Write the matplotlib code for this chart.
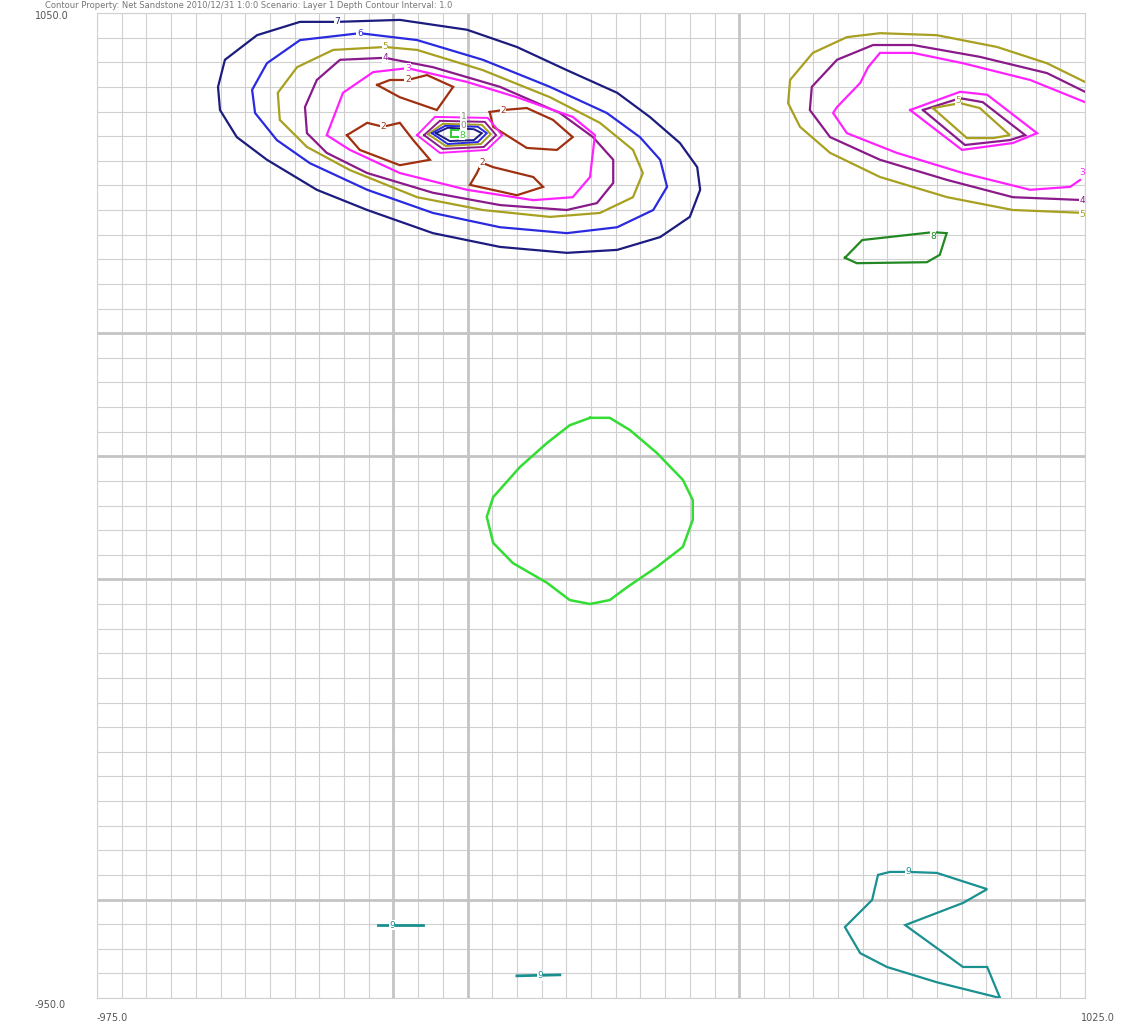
import numpy as np
import matplotlib.pyplot as plt

# contour polylines, data units (x, y)
navy7 = [(-489, 1032), (-564, 1032), (-651, 1005), (-716, 955), (-730, 900), (-726, 853),
         (-692, 798), (-631, 752), (-530, 691), (-428, 650), (-295, 603), (-159, 575),
         (-24, 563), (78, 569), (165, 595), (225, 636), (246, 691), (240, 737), (205, 786),
         (144, 839), (78, 888), (-24, 934), (-125, 981), (-226, 1016), (-362, 1036), (-489, 1032)]
blue6 = [(-443, 1009), (-564, 995), (-631, 948), (-661, 894), (-655, 847), (-611, 792),
         (-544, 745), (-428, 691), (-295, 644), (-159, 615), (-24, 603), (78, 615), (151, 650),
         (179, 697), (165, 752), (124, 798), (57, 847), (-58, 900), (-194, 955), (-327, 995),
         (-443, 1009)]
olive5 = [(-392, 981), (-497, 975), (-570, 940), (-609, 888), (-605, 833), (-550, 778),
          (-463, 731), (-327, 676), (-194, 650), (-58, 636), (43, 644), (110, 676), (130, 725),
          (110, 772), (43, 827), (-58, 879), (-194, 934), (-327, 975), (-392, 981)]
purple4 = [(-392, 959), (-483, 955), (-530, 914), (-554, 859), (-550, 806), (-510, 766),
           (-428, 725), (-295, 685), (-159, 660), (-24, 650), (37, 664), (70, 705), (70, 752),
           (29, 798), (-38, 847), (-159, 900), (-295, 940), (-392, 959)]
magenta3 = [(-346, 938), (-416, 930), (-477, 888), (-510, 802), (-463, 772), (-362, 725),
            (-226, 691), (-92, 670), (-12, 676), (23, 717), (33, 802), (-12, 839), (-125, 879),
            (-226, 910), (-346, 938)]
brown2 = [
    [(-408, 904), (-382, 914), (-346, 914), (-307, 924), (-254, 900), (-287, 853), (-362, 879), (-408, 904)],
    [(-469, 802), (-428, 827), (-396, 819), (-362, 827), (-335, 792), (-301, 752), (-362, 741), (-443, 772), (-469, 802)],
    [(-180, 849), (-153, 853), (-105, 857), (-52, 833), (-12, 798), (-44, 772), (-105, 776), (-173, 819), (-180, 849)],
    [(-196, 746), (-173, 737), (-92, 717), (-72, 697), (-125, 680), (-220, 701), (-206, 725), (-196, 746)],
]
# peak in the middle of the left cluster, levels 3..8
pit = [
    ('#ff22ff', [(-327, 802), (-291, 839), (-184, 837), (-155, 802), (-186, 772), (-281, 766), (-327, 802)]),
    ('#8a1a8a', [(-313, 802), (-281, 831), (-190, 829), (-167, 802), (-192, 778), (-275, 774), (-313, 802)]),
    ('#a8a020', [(-305, 804), (-275, 825), (-196, 823), (-178, 804), (-198, 784), (-269, 780), (-305, 804)]),
    ('#2a2ae0', [(-297, 806), (-270, 821), (-204, 819), (-186, 806), (-204, 788), (-265, 784), (-297, 806)]),
    ('#1c1c80', [(-289, 806), (-265, 817), (-212, 814), (-196, 806), (-212, 792), (-261, 790), (-289, 806)]),
    ('#33cc33', [(-258, 812), (-236, 812), (-236, 798), (-258, 798), (-258, 812)]),
]
# right cluster
r_olive5 = [(1025, 910), (948, 948), (847, 981), (725, 1005), (610, 1009), (543, 1001), (474, 969),
            (428, 914), (424, 867), (448, 819), (509, 766), (610, 717), (746, 676), (879, 650), (1025, 644)]
r_purple4 = [(1025, 890), (948, 928), (812, 961), (677, 985), (596, 985), (523, 955), (472, 900),
             (468, 853), (509, 798), (610, 752), (746, 711), (879, 676), (1025, 670)]
r_magenta3 = [(1025, 869), (914, 914), (778, 948), (677, 969), (610, 969), (586, 940), (570, 908),
              (523, 859), (515, 847), (543, 806), (644, 766), (778, 725), (914, 691), (995, 697), (1015, 711)]
r_in_magenta = [(671, 853), (772, 890), (827, 884), (928, 806), (879, 786), (776, 772), (671, 853)]
r_in_purple = [(697, 853), (772, 877), (818, 869), (904, 802), (873, 792), (782, 782), (697, 853)]
r_in_olive = [(717, 857), (772, 867), (812, 857), (873, 802), (839, 796), (786, 796), (717, 857)]
dgreen8 = [(539, 553), (574, 589), (717, 605), (745, 603), (731, 559), (705, 544), (563, 542), (539, 553)]
lgreen = [(23, 228), (63, 228), (104, 203), (158, 157), (211, 102), (231, 61), (231, 21), (211, -34),
          (158, -75), (98, -116), (63, -142), (23, -150), (-18, -142), (-64, -107), (-133, -67),
          (-173, -26), (-186, 27), (-173, 67), (-119, 128), (-64, 177), (-18, 213), (23, 228)]
teal_a = [(-406, -802), (-315, -802)]
teal_b = [(-125, -905), (-38, -903)]
teal_c = [(667, -694), (725, -696), (827, -729), (778, -757), (661, -802), (778, -887), (827, -887),
          (853, -950), (725, -918), (624, -887), (570, -859), (539, -806), (594, -751), (606, -700),
          (630, -694), (667, -694)]

# contour labels: (x, y, text, colour)
labels = [(-489, 1032, '7', '#1c1c80'), (-443, 1009, '6', '#2a2ae0'), (-392, 981, '5', '#a8a020'),
          (-392, 959, '4', '#8a1a8a'), (-346, 938, '3', '#ff22ff'), (-346, 914, '2', '#a03010'),
          (-396, 819, '2', '#a03010'), (-153, 853, '2', '#a03010'), (-196, 746, '2', '#a03010'),
          (-233, 840, '1', '#888888'), (-233, 822, '0', '#888888'), (-236, 802, '8', '#33cc33'),
          (768, 873, '5', '#a8a020'), (1019, 727, '3', '#ff22ff'), (1019, 670, '4', '#8a1a8a'),
          (1019, 640, '5', '#a8a020'), (717, 597, '8', '#228822'), (-378, -802, '9', '#1a9090'),
          (-78, -905, '9', '#1a9090'), (667, -694, '9', '#1a9090')]

xmin, xmax, ymin, ymax = -975, 1025, -950, 1050

fig = plt.figure(figsize=(11.27, 10.26), dpi=100)
ax = fig.add_axes([97 / 1127, 28 / 1026, 988 / 1127, 985 / 1026])
ax.set_xlim(xmin, xmax)
ax.set_ylim(ymin, ymax)

# grid every 50 units, some heavier lines
for gx in np.arange(xmin, xmax + 1, 50):
    ax.axvline(gx, color='#d0d0d0', lw=0.8, zorder=0)
for gy in np.arange(ymin, ymax + 1, 50):
    ax.axhline(gy, color='#d0d0d0', lw=0.8, zorder=0)
for gx in [-375, -225, 325]:
    ax.axvline(gx, color='#c4c4c4', lw=2.0, zorder=0)
for gy in [400, 150, -100, -750]:
    ax.axhline(gy, color='#c4c4c4', lw=2.0, zorder=0)


def line(pts, c, lw=1.6):
    a = np.array(pts)
    ax.plot(a[:, 0], a[:, 1], color=c, lw=lw, zorder=2, solid_joinstyle='miter')


line(navy7, '#1c1c80')
line(blue6, '#2a2ae0')
line(olive5, '#a8a020')
line(purple4, '#8a1a8a')
line(magenta3, '#ff22ff')
for b in brown2:
    line(b, '#a03010')
for c, p in pit:
    line(p, c, lw=1.4)
line(r_olive5, '#a8a020')
line(r_purple4, '#8a1a8a')
line(r_magenta3, '#ff22ff')
line(r_in_magenta, '#ff22ff')
line(r_in_purple, '#8a1a8a')
line(r_in_olive, '#a8a020')
line(dgreen8, '#228822')
line(lgreen, '#33dd33', lw=1.8)
line(teal_a, '#1a9090', lw=2)
line(teal_b, '#1a9090', lw=2)
line(teal_c, '#1a9090')

for x, y, t, c in labels:
    ax.text(x, y, t, color=c, fontsize=6.5, ha='center', va='center', zorder=3,
            bbox=dict(boxstyle='square,pad=0.05', fc='white', ec='none'))

ax.set_xticks([])
ax.set_yticks([])
for s in ax.spines.values():
    s.set_color('#d0d0d0')
    s.set_linewidth(0.8)

tc = '#555555'
fig.text(35 / 1127, 1 - 16 / 1026, '1050.0', fontsize=7, color=tc, ha='left', va='center')
fig.text(35 / 1127, 1 - 1005 / 1026, '-950.0', fontsize=7, color=tc, ha='left', va='center')
fig.text(97 / 1127, 1 - 1018 / 1026, '-975.0', fontsize=7, color=tc, ha='left', va='center')
fig.text(1115 / 1127, 1 - 1018 / 1026, '1025.0', fontsize=7, color=tc, ha='right', va='center')
fig.text(45 / 1127, 1 - 6 / 1026,
         'Contour Property: Net Sandstone 2010/12/31 1:0:0 Scenario: Layer 1 Depth Contour Interval: 1.0',
         fontsize=6, color='#777777', ha='left', va='center')

fig.savefig('out.png', dpi=100)
